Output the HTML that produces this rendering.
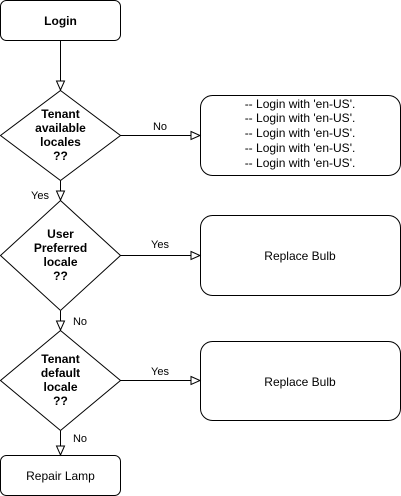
<!DOCTYPE html>
<html><head><style>body{margin:0;background:#fff}svg{display:block}text{font-family:"Liberation Sans",Arial,sans-serif;font-size:12px;fill:#000}</style></head><body>
<svg width="401" height="496" viewBox="0 0 401 496">
<defs><marker id="a" markerWidth="12" markerHeight="12" refX="10" refY="5" orient="auto" markerUnits="userSpaceOnUse"><path d="M1,1 L10,5 L1,9 Z" fill="#fff" stroke="#000"/></marker></defs>
<g fill="#fff" stroke="#000" stroke-width="1">
<rect x="0.5" y="0.5" width="120" height="40" rx="6"/>
<polygon points="60.5,90.5 120.5,135.5 60.5,180.5 0.5,135.5"/>
<rect x="200.5" y="95.5" width="200" height="80" rx="12"/>
<polygon points="60.5,200.5 120.5,255.5 60.5,310.5 0.5,255.5"/>
<rect x="200.5" y="215.5" width="200" height="80" rx="12"/>
<polygon points="60.5,330.5 120.5,380.5 60.5,430.5 0.5,380.5"/>
<rect x="200.5" y="341.5" width="200" height="79" rx="12"/>
<rect x="0.5" y="455.5" width="120" height="40" rx="6"/>
</g>
<g stroke="#000" fill="none" marker-end="url(#a)">
<line x1="60.5" y1="41" x2="60.5" y2="90"/>
<line x1="120.5" y1="135.5" x2="200" y2="135.5"/>
<line x1="60.5" y1="181" x2="60.5" y2="200"/>
<line x1="120.5" y1="255.5" x2="200" y2="255.5"/>
<line x1="60.5" y1="311" x2="60.5" y2="330"/>
<line x1="120.5" y1="380.5" x2="200" y2="380.5"/>
<line x1="60.5" y1="431" x2="60.5" y2="455"/>
</g>
<g text-anchor="middle" font-weight="bold">
<text x="60.5" y="25" style="font-weight:bold">Login</text>
<text x="60.5" y="118" style="font-weight:bold">Tenant</text>
<text x="60.5" y="132" style="font-weight:bold">available</text>
<text x="60.5" y="146" style="font-weight:bold">locales</text>
<text x="60.5" y="160" style="font-weight:bold">??</text>
<text x="60.5" y="238" style="font-weight:bold">User</text>
<text x="60.5" y="252" style="font-weight:bold">Preferred</text>
<text x="60.5" y="266" style="font-weight:bold">locale</text>
<text x="60.5" y="280" style="font-weight:bold">??</text>
<text x="60.5" y="363" style="font-weight:bold">Tenant</text>
<text x="60.5" y="377" style="font-weight:bold">default</text>
<text x="60.5" y="391" style="font-weight:bold">locale</text>
<text x="60.5" y="405" style="font-weight:bold">??</text>
</g>
<g text-anchor="middle">
<text x="300" y="108">-- Login with 'en-US'.</text>
<text x="300" y="122">-- Login with 'en-US'.</text>
<text x="300" y="137">-- Login with 'en-US'.</text>
<text x="300" y="152">-- Login with 'en-US'.</text>
<text x="300" y="167">-- Login with 'en-US'.</text>
<text x="300" y="260">Replace Bulb</text>
<text x="300" y="386">Replace Bulb</text>
<text x="60.5" y="480">Repair Lamp</text>
</g>
<g font-size="11" text-anchor="middle" style="font-size:11px">
<text x="160" y="130" style="font-size:11px">No</text>
<text x="40" y="199" style="font-size:11px">Yes</text>
<text x="160" y="248" style="font-size:11px">Yes</text>
<text x="80" y="325" style="font-size:11px">No</text>
<text x="160" y="375" style="font-size:11px">Yes</text>
<text x="80" y="442" style="font-size:11px">No</text>
</g>
</svg>
</body></html>
